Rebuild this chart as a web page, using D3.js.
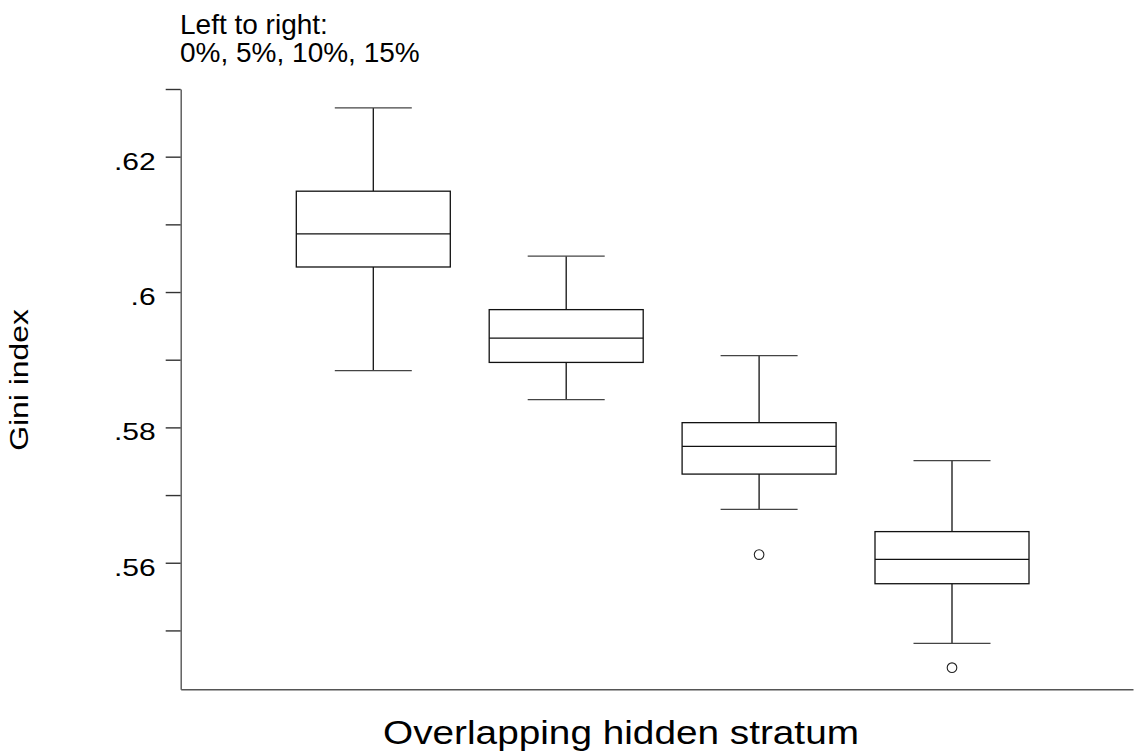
<!DOCTYPE html>
<html>
<head>
<meta charset="utf-8">
<script src="https://cdn.jsdelivr.net/npm/d3@7"></script>
<style>
  html, body { margin: 0; padding: 0; background: #fff; }
  svg { display: block; }
  text { font-family: "Liberation Sans", Arial, Helvetica, sans-serif; fill: #000; }
</style>
</head>
<body>
<svg id="chart" width="1134" height="751"></svg>
<script>
// ---- data ----
const categories = ["0%", "5%", "10%", "15%"];
const whiskerLow  = [0.5884, 0.5841, 0.5679, 0.5481];
const q1          = [0.6037, 0.5896, 0.5731, 0.5569];
const median      = [0.6086, 0.5932, 0.5772, 0.5605];
const q3          = [0.6149, 0.5974, 0.5807, 0.5646];
const whiskerHigh = [0.6272, 0.6053, 0.5906, 0.5751];
const outliers    = [[], [], [0.5612], [0.5445]];
const yTicks      = [0.55, 0.56, 0.57, 0.58, 0.59, 0.60, 0.61, 0.62, 0.63];
const yLabelTicks = [0.56, 0.58, 0.60, 0.62];
const titleLines  = ["Left to right:", "0%, 5%, 10%, 15%"];
const xTitle = "Overlapping hidden stratum";
const yTitle = "Gini index";

const boxes = categories.map((c, i) => ({
  cat: c, lo: whiskerLow[i], q1: q1[i], med: median[i], q3: q3[i], hi: whiskerHigh[i], out: outliers[i]
}));

// ---- layout ----
const svg = d3.select("#chart");
const axisX = 180.7, plotRight = 1133, axisBottomY = 689.3, axisTopY = 89;

const y = d3.scaleLinear().domain([0.5413, 0.63]).range([axisBottomY, axisTopY]);
const x = d3.scalePoint().domain(categories).range([373.3, 952]);
const boxW = 154, capW = 77;
const lineCol = "#111";

// y axis
const yAxis = d3.axisLeft(y)
  .tickValues(yTicks)
  .tickSize(15)
  .tickSizeOuter(0)
  .tickPadding(10)
  .tickFormat(v => yLabelTicks.some(t => Math.abs(t - v) < 1e-9) ? String(+v.toFixed(2)).replace(/^0/, "") : "");
const gy = svg.append("g").attr("transform", `translate(${axisX},0)`).call(yAxis);
gy.select(".domain").attr("stroke", "#555").attr("stroke-width", 1.4);
gy.selectAll(".tick line").attr("stroke", "#333").attr("stroke-width", 1.4);
const sx = 1.28;
gy.selectAll(".tick text")
  .attr("font-size", 23.5)
  .attr("font-family", "Liberation Sans, Arial, sans-serif")
  .attr("fill", "#000")
  .attr("dy", null)
  .attr("y", 12.5)
  .attr("x", -25 / sx)
  .attr("transform", `scale(${sx},1)`);

// x axis (line only)
const xLine = d3.scaleLinear().range([axisX, plotRight]);
const gx = svg.append("g").attr("transform", `translate(0,${axisBottomY})`)
  .call(d3.axisBottom(xLine).tickValues([]).tickSizeOuter(0));
gx.select(".domain").attr("stroke", "#555").attr("stroke-width", 1.6);

// boxes
const g = svg.append("g").attr("fill", "none").attr("stroke", lineCol).attr("stroke-width", 1.3);
const bg = g.selectAll("g.box").data(boxes).join("g").attr("class", "box");

bg.append("line") // upper whisker
  .attr("x1", d => x(d.cat)).attr("x2", d => x(d.cat))
  .attr("y1", d => y(d.q3)).attr("y2", d => y(d.hi));
bg.append("line") // lower whisker
  .attr("x1", d => x(d.cat)).attr("x2", d => x(d.cat))
  .attr("y1", d => y(d.q1)).attr("y2", d => y(d.lo));
bg.append("line") // upper cap
  .attr("x1", d => x(d.cat) - capW / 2).attr("x2", d => x(d.cat) + capW / 2)
  .attr("y1", d => y(d.hi)).attr("y2", d => y(d.hi)).attr("stroke", "#444");
bg.append("line") // lower cap
  .attr("x1", d => x(d.cat) - capW / 2).attr("x2", d => x(d.cat) + capW / 2)
  .attr("y1", d => y(d.lo)).attr("y2", d => y(d.lo)).attr("stroke", "#444");
bg.append("rect")
  .attr("x", d => x(d.cat) - boxW / 2).attr("width", boxW)
  .attr("y", d => y(d.q3)).attr("height", d => y(d.q1) - y(d.q3))
  .attr("fill", "#fff");
bg.append("line") // median
  .attr("x1", d => x(d.cat) - boxW / 2).attr("x2", d => x(d.cat) + boxW / 2)
  .attr("y1", d => y(d.med)).attr("y2", d => y(d.med));
bg.selectAll("circle").data(d => d.out.map(v => ({cat: d.cat, v})))
  .join("circle")
  .attr("cx", d => x(d.cat)).attr("cy", d => y(d.v)).attr("r", 4.8)
  .attr("stroke", "#222").attr("stroke-width", 1.1);

// title
svg.append("text").attr("x", 180).attr("y", 34).attr("font-size", 28)
  .selectAll("tspan").data(titleLines).join("tspan")
  .attr("x", 180).attr("dy", (d, i) => i === 0 ? 0 : 28).text(d => d);

// x title
svg.append("text").attr("text-anchor", "middle")
  .attr("transform", `translate(621,744) scale(1.14,1)`)
  .attr("font-size", 34).text(xTitle);

// y title
svg.append("text").attr("text-anchor", "middle")
  .attr("transform", `translate(28,380) rotate(-90) scale(1.25,1)`)
  .attr("font-size", 25.5).text(yTitle);
</script>
</body>
</html>
